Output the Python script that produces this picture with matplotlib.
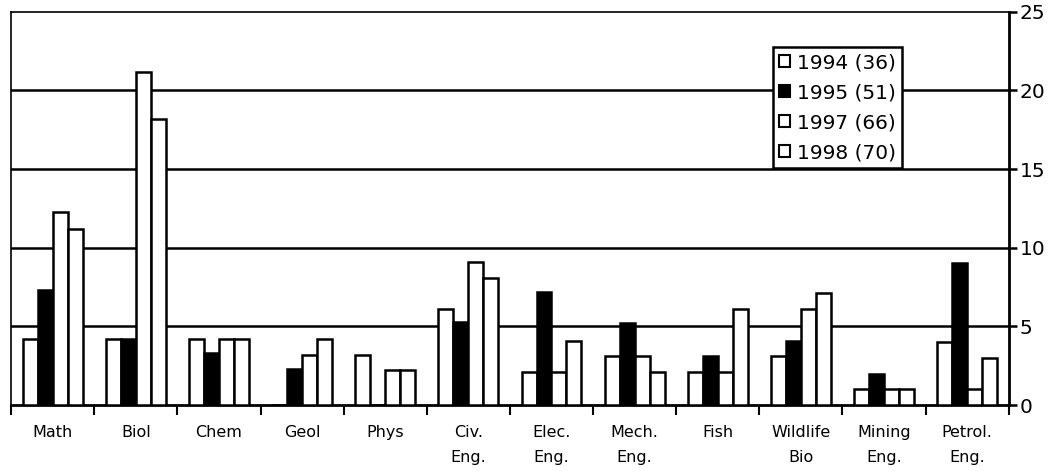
import numpy as np
import matplotlib
matplotlib.use('Agg')
import matplotlib.pyplot as plt

categories = ['Math', 'Biol', 'Chem', 'Geol', 'Phys', 'Civ.\nEng.', 'Elec.\nEng.',
              'Mech.\nEng.', 'Fish', 'Wildlife\nBio', 'Mining\nEng.', 'Petrol.\nEng.']
series_labels = ['1994 (36)', '1995 (51)', '1997 (66)', '1998 (70)']
y1994 = [4.2, 4.2, 4.2, 0.0, 3.2, 6.1, 2.1, 3.1, 2.1, 3.1, 1.0, 4.0]
y1995 = [7.3, 4.2, 3.3, 2.3, 0.0, 5.3, 7.2, 5.2, 3.1, 4.1, 2.0, 9.0]
y1997 = [12.3, 21.2, 4.2, 3.2, 2.2, 9.1, 2.1, 3.1, 2.1, 6.1, 1.0, 1.0]
y1998 = [11.2, 18.2, 4.2, 4.2, 2.2, 8.1, 4.1, 2.1, 6.1, 7.1, 1.0, 3.0]
y_ticks = [0, 5, 10, 15, 20, 25]

series = [y1994, y1995, y1997, y1998]
fills = ['white', 'black', 'white', 'white']

fig = plt.figure(figsize=(10.59, 4.71), dpi=100)
ax = fig.add_axes([0.0105, 0.140, 0.942, 0.835])

x = np.arange(len(categories)) + 0.5
w = 0.18
for k, (vals, fc) in enumerate(zip(series, fills)):
    ax.bar(x + (k - 1.5) * w, vals, width=w, color=fc, edgecolor='black',
           linewidth=1.8, label=series_labels[k], zorder=3)

for yv in [5, 10, 15, 20]:
    ax.axhline(yv, color='black', linewidth=1.8, zorder=1)

ax.set_xlim(0, len(categories))
ax.set_ylim(0, 25)

ax.yaxis.tick_right()
ax.set_yticks(y_ticks)
ax.tick_params(axis='y', direction='out', length=6, width=1.8, labelsize=14.5, pad=2)

ax.set_xticks(np.arange(len(categories) + 1))
ax.set_xticklabels([])
ax.tick_params(axis='x', which='major', direction='out', length=7, width=1.5)
ax.set_xticks(x, minor=True)
ax.set_xticklabels(categories, minor=True, fontsize=11.5, linespacing=1.85)
ax.tick_params(axis='x', which='minor', length=0, pad=14)

for side in ['left', 'top']:
    ax.spines[side].set_linewidth(1.2)
for side in ['right', 'bottom']:
    ax.spines[side].set_linewidth(2)

leg = ax.legend(loc='upper right', bbox_to_anchor=(0.893, 0.91), fontsize=14.5,
                frameon=True, fancybox=False, edgecolor='black', framealpha=1,
                handlelength=0.55, handleheight=0.55, handletextpad=0.35,
                borderpad=0.3, labelspacing=0.55, borderaxespad=0)
leg.get_frame().set_linewidth(1.8)
leg.set_zorder(5)
for h in leg.legend_handles:
    h.set_linewidth(1.5)

fig.savefig('out.png', dpi=100)
